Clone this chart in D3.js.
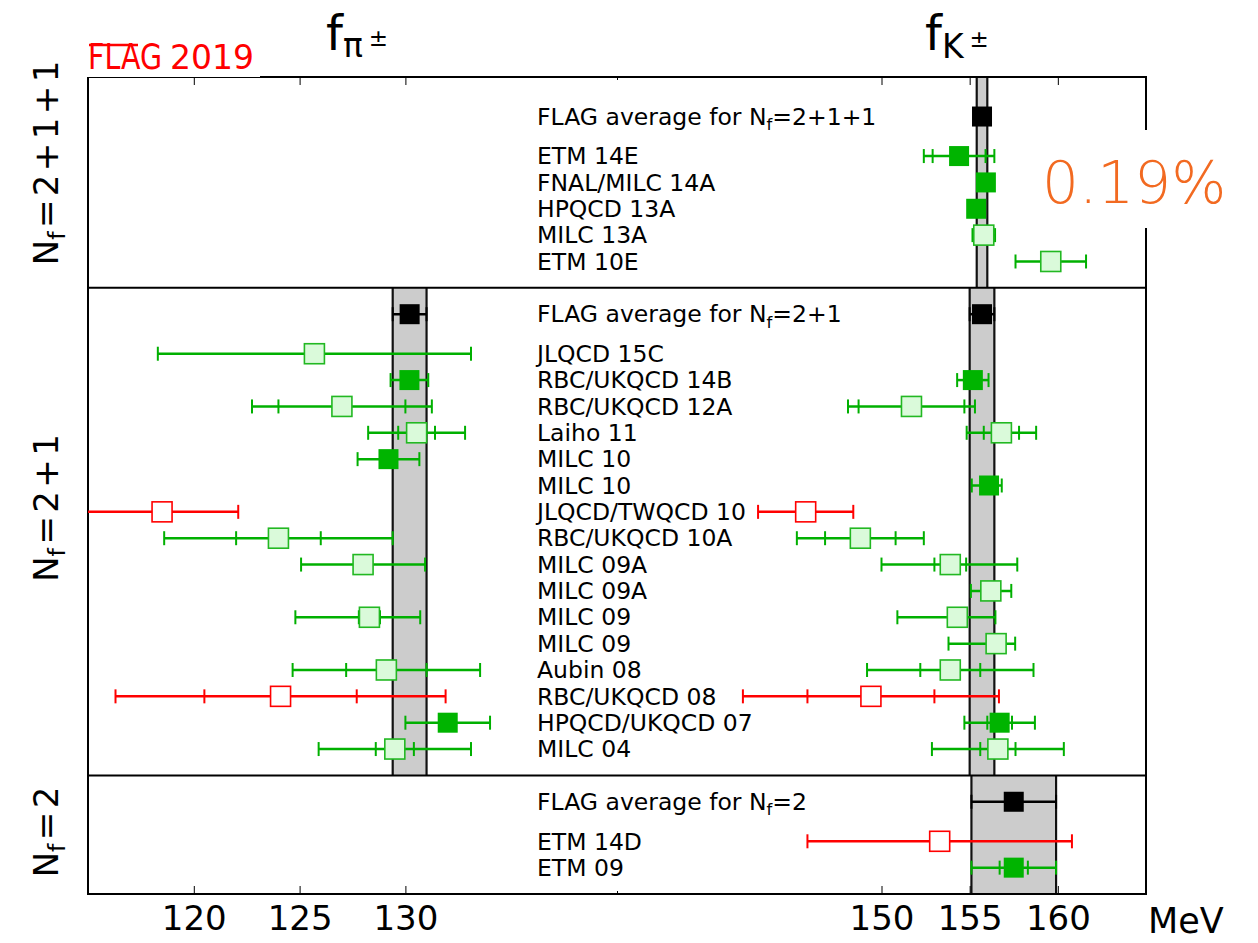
<!DOCTYPE html>
<html>
<head>
<meta charset="utf-8">
<script src="https://cdn.jsdelivr.net/npm/d3@7"></script>
<style>
body { margin: 0; background: #fff; }
text { font-family: "DejaVu Sans", sans-serif; }
</style>
</head>
<body>
<div id="chart"></div>
<script>
// ---- data (values in MeV): [central, stat-, stat+, total-, total+]
// Nf = 2+1+1 (top to bottom)
const nf2111Labels = ["ETM 14E", "FNAL/MILC 14A", "HPQCD 13A", "MILC 13A", "ETM 10E"]
const nf2111Style = ["g", "g", "g", "p", "p"]
const nf2111Pi = [null, null, null, null, null]
const nf2111K = [
    [154.4, 1.5, 1.5, 2.0, 2.0],
    [155.92, 0.13, 0.13, 0.36, 0.44],
    [155.37, 0.34, 0.34, 0.34, 0.34],
    [155.80, 0.34, 0.34, 0.64, 0.64],
    [159.6, 2.0, 2.0, 2.0, 2.0]
]
const nf2111AvgPi = null
const nf2111AvgK = [155.7, 0.3]

// Nf = 2+1
const nf21Labels = ["JLQCD 15C", "RBC/UKQCD 14B", "RBC/UKQCD 12A", "Laiho 11", "MILC 10", "MILC 10",
    "JLQCD/TWQCD 10", "RBC/UKQCD 10A", "MILC 09A", "MILC 09A", "MILC 09", "MILC 09", "Aubin 08",
    "RBC/UKQCD 08", "HPQCD/UKQCD 07", "MILC 04"]
const nf21Style = ["p", "g", "p", "p", "g", "g", "r", "p", "p", "p", "p", "p", "p", "r", "g", "p"]
const nf21Pi = [
    [125.7, 7.4, 7.4, 7.4, 7.4],
    [130.19, 0.89, 0.89, 0.89, 0.89],
    [127.0, 3.0, 3.0, 4.25, 4.25],
    [130.53, 0.87, 0.87, 2.29, 2.29],
    [129.2, 0.4, 0.4, 1.46, 1.46],
    null,
    [118.5, 3.6, 3.6, 3.6, 3.6],
    [124.0, 2.0, 2.0, 5.4, 5.4],
    [128.0, 0.3, 0.3, 2.93, 2.93],
    null,
    [128.3, 0.5, 0.5, 3.5, 2.4],
    null,
    [129.1, 1.9, 1.9, 4.43, 4.43],
    [124.1, 3.6, 3.6, 7.8, 7.8],
    [132.0, 2.0, 2.0, 2.0, 2.0],
    [129.5, 0.9, 0.9, 3.6, 3.6]
]
const nf21K = [
    null,
    [155.18, 0.89, 0.89, 0.89, 0.89],
    [151.7, 3.0, 3.0, 3.6, 3.6],
    [156.8, 1.0, 1.0, 1.97, 1.97],
    null,
    [156.1, 0.4, 0.4, 0.98, 0.72],
    [145.7, 2.7, 2.7, 2.7, 2.7],
    [148.8, 2.0, 2.0, 3.6, 3.6],
    [153.9, 0.9, 0.9, 3.9, 3.8],
    [156.2, 0.3, 0.3, 1.13, 1.16],
    [154.3, 0.4, 0.4, 3.4, 2.16],
    [156.5, 0.4, 0.4, 2.7, 1.08],
    [153.9, 1.7, 1.7, 4.72, 4.72],
    [149.4, 3.6, 3.6, 7.26, 7.26],
    [156.7, 0.7, 0.7, 2.0, 2.0],
    [156.6, 1.0, 1.0, 3.74, 3.74]
]
const nf21AvgPi = [130.2, 0.8]
const nf21AvgK = [155.7, 0.7]

// Nf = 2
const nf2Labels = ["ETM 14D", "ETM 09"]
const nf2Style = ["r", "g"]
const nf2Pi = [null, null]
const nf2K = [
    [153.3, 7.5, 7.5, 7.5, 7.5],
    [157.5, 0.8, 0.8, 2.4, 2.4]
]
const nf2AvgPi = null
const nf2AvgK = [157.5, 2.4]

const piTicks = [120, 125, 130]
const kTicks = [150, 155, 160]

// ---- layout
const width = 1258
const height = 943
const margin = { top: 77, bottom: 49, left: 88, right: 112 }
const plotW = width - margin.left - margin.right
const labelX = 537
const labelSize = 23.5

// bottom panel first, positions in "row units"
const panels = [
    { nf: ["2"], labels: nf2Labels, style: nf2Style, pi: nf2Pi, k: nf2K, avgPi: nf2AvgPi, avgK: nf2AvgK },
    { nf: ["2", "1"], labels: nf21Labels, style: nf21Style, pi: nf21Pi, k: nf21K, avgPi: nf21AvgPi, avgK: nf21AvgK },
    { nf: ["2", "1", "1"], labels: nf2111Labels, style: nf2111Style, pi: nf2111Pi, k: nf2111K, avgPi: nf2111AvgPi, avgK: nf2111AvgK }
]
let start = 0
panels.forEach((p, i) => {
    const n = p.labels.length
    p.start = start
    p.pos = p.labels.map((l, j) => start + n - j)
    p.avgPos = start + n + 1.5
    p.end = start + n + 2.5 + (i === panels.length - 1 ? 0.5 : 0)
    start = p.end
})
const yMax = start

// two halves of the x axis: fpi on the left, fK on the right
const xMid = margin.left + plotW / 2
const xPi = d3.scaleLinear().domain([115, 140]).range([margin.left, xMid])
const xK = d3.scaleLinear().domain([135, 165]).range([xMid, margin.left + plotW])
const y = d3.scaleLinear().domain([0, yMax]).range([height - margin.bottom, margin.top])

const svg = d3.select("#chart").append("svg").attr("width", width).attr("height", height)

svg.append("defs").append("clipPath").attr("id", "plotClip")
    .append("rect")
    .attr("x", margin.left).attr("y", margin.top)
    .attr("width", plotW).attr("height", height - margin.top - margin.bottom)

const bandGroup = svg.append("g")
const frameGroup = svg.append("g")
const dataGroup = svg.append("g").attr("clip-path", "url(#plotClip)")
const textGroup = svg.append("g")

// ---- grey average bands
function band(p, avg, x) {
    if (!avg) return
    const x0 = x(avg[0] - avg[1]), x1 = x(avg[0] + avg[1])
    bandGroup.append("rect")
        .attr("x", x0).attr("y", y(p.end))
        .attr("width", x1 - x0).attr("height", y(p.start) - y(p.end))
        .attr("fill", "#cccccc")
    ;[x0, x1].forEach(xx => {
        bandGroup.append("line")
            .attr("x1", xx).attr("x2", xx)
            .attr("y1", y(p.end)).attr("y2", y(p.start))
            .attr("stroke", "#111").attr("stroke-width", 2.2)
    })
}
panels.forEach(p => { band(p, p.avgPi, xPi); band(p, p.avgK, xK) })

// ---- frame and panel separators
frameGroup.append("rect")
    .attr("x", margin.left).attr("y", margin.top)
    .attr("width", plotW).attr("height", height - margin.top - margin.bottom)
    .attr("fill", "none").attr("stroke", "#000").attr("stroke-width", 2)
panels.slice(0, -1).forEach(p => {
    frameGroup.append("line")
        .attr("x1", margin.left).attr("x2", margin.left + plotW)
        .attr("y1", y(p.end)).attr("y2", y(p.end))
        .attr("stroke", "#000").attr("stroke-width", 2)
})

// ---- axes (ticks point inwards)
function styleAxis(g) {
    g.select(".domain").remove()
    g.selectAll(".tick line").attr("stroke", "#000").attr("stroke-width", 1)
    g.selectAll(".tick text").attr("font-size", 34).attr("fill", "#000")
        .attr("font-family", "DejaVu Sans, sans-serif")
}
const yBottom = height - margin.bottom
;[[xPi, piTicks], [xK, kTicks]].forEach(([sc, ticks]) => {
    frameGroup.append("g").attr("transform", `translate(0,${yBottom})`)
        .call(d3.axisBottom(sc).tickValues(ticks).tickSize(-8).tickPadding(12).tickFormat(d3.format("d")))
        .call(styleAxis)
    frameGroup.append("g").attr("transform", `translate(0,${margin.top})`)
        .call(d3.axisTop(sc).tickValues(ticks).tickSize(-8).tickFormat(""))
        .call(styleAxis)
})
// small tick where the two halves join
frameGroup.append("g").attr("transform", `translate(0,${yBottom})`)
    .call(d3.axisBottom(xPi).tickValues([140]).tickSize(-3).tickFormat("")).call(styleAxis)
frameGroup.append("g").attr("transform", `translate(0,${margin.top})`)
    .call(d3.axisTop(xPi).tickValues([140]).tickSize(-3).tickFormat("")).call(styleAxis)

textGroup.append("text").text("MeV")
    .attr("x", 1148).attr("y", 933).attr("font-size", 35)

// ---- points
const colors = {
    g: { line: "#00b000", fill: "#00b400", stroke: "#00b400" },
    p: { line: "#00b000", fill: "#dafada", stroke: "#22b822" },
    r: { line: "#ff0000", fill: "#ffffff", stroke: "#ff0000" },
    a: { line: "#000000", fill: "#000000", stroke: "#000000" }
}
const half = 10, cap = 7

function drawPoint(d, yy, x, style) {
    if (!d) return
    const [v, sm, sp, tm, tp] = d
    const c = colors[style]
    const g = dataGroup.append("g")
    g.append("line")
        .attr("x1", x(v - tm)).attr("x2", x(v + tp))
        .attr("y1", yy).attr("y2", yy)
        .attr("stroke", c.line).attr("stroke-width", 2.5)
    const capsAt = [v - tm, v + tp]
    if (sm < tm) capsAt.push(v - sm)
    if (sp < tp) capsAt.push(v + sp)
    capsAt.forEach(cv => {
        g.append("line")
            .attr("x1", x(cv)).attr("x2", x(cv))
            .attr("y1", yy - cap).attr("y2", yy + cap)
            .attr("stroke", c.line).attr("stroke-width", 2)
    })
    g.append("rect")
        .attr("x", x(v) - half).attr("y", yy - half)
        .attr("width", 2 * half).attr("height", 2 * half)
        .attr("fill", c.fill).attr("stroke", c.stroke)
        .attr("stroke-width", style === "g" || style === "a" ? 0 : 1.6)
}

// N_f = 2+1+1 written like math text
function nfText(sel, nf, size, gap) {
    sel.append("tspan").text("N")
    sel.append("tspan").text("f").attr("font-size", size * 0.7).attr("dy", size * 0.22)
    sel.append("tspan").text(gap + "=" + gap + nf.join(gap + "+" + gap)).attr("dy", -size * 0.22)
}

panels.forEach(p => {
    // averages
    const ya = y(p.avgPos)
    if (p.avgPi) drawPoint([p.avgPi[0], p.avgPi[1], p.avgPi[1], p.avgPi[1], p.avgPi[1]], ya, xPi, "a")
    if (p.avgK) drawPoint([p.avgK[0], p.avgK[1], p.avgK[1], p.avgK[1], p.avgK[1]], ya, xK, "a")
    const t = textGroup.append("text")
        .attr("x", labelX).attr("y", ya).attr("dy", "0.35em").attr("font-size", labelSize)
    t.append("tspan").text("FLAG average for ")
    nfText(t, p.nf, labelSize, "")

    p.labels.forEach((l, j) => {
        const yy = y(p.pos[j])
        drawPoint(p.pi[j], yy, xPi, p.style[j])
        drawPoint(p.k[j], yy, xK, p.style[j])
        textGroup.append("text").text(l)
            .attr("x", labelX).attr("y", yy).attr("dy", "0.35em").attr("font-size", labelSize)
    })
})

// ---- panel labels on the left (rotated)
const sideCenters = [832, 508, 163]
panels.forEach((p, i) => {
    const t = textGroup.append("text")
        .attr("transform", `translate(58,${sideCenters[i]}) rotate(-90)`)
        .attr("text-anchor", "middle").attr("font-size", 34)
    nfText(t, p.nf, 34, "\u200a")
})

// ---- titles
const tPi = textGroup.append("text").attr("x", 326).attr("y", 50).attr("font-size", 48)
tPi.append("tspan").text("f")
tPi.append("tspan").text("\u03c0").attr("font-size", 33).attr("dy", 7)
tPi.append("tspan").text("\u00b1").attr("font-size", 23).attr("dy", -11).attr("dx", 6)

const tK = textGroup.append("text").attr("x", 925).attr("y", 50).attr("font-size", 48)
tK.append("tspan").text("f")
tK.append("tspan").text("K").attr("font-size", 33).attr("dy", 8)
tK.append("tspan").text("\u00b1").attr("font-size", 23).attr("dy", -11).attr("dx", 6)

// ---- FLAG 2019 logo
textGroup.append("rect").attr("x", 84).attr("y", 36).attr("width", 176).attr("height", 41)
    .attr("fill", "#fff")
textGroup.append("text").text("FLAG")
    .attr("transform", "translate(88,69) scale(1,1.22)")
    .attr("font-size", 28.5).attr("fill", "#ff0000")
textGroup.append("line").attr("x1", 89).attr("x2", 138).attr("y1", 45).attr("y2", 45)
    .attr("stroke", "#ff0000").attr("stroke-width", 2.5)
textGroup.append("text").text("2019")
    .attr("x", 170).attr("y", 69).attr("font-size", 33).attr("fill", "#ff0000")

// ---- precision note
textGroup.append("rect").attr("x", 1032).attr("y", 130).attr("width", 200).attr("height", 98)
    .attr("fill", "#fff")
textGroup.append("text").text("0.19%")
    .attr("x", 1042).attr("y", 203).attr("font-size", 58)
    .attr("font-family", "Lato, 'Open Sans', sans-serif").attr("font-weight", 300)
    .attr("fill", "#f26a21")
</script>
</body>
</html>
